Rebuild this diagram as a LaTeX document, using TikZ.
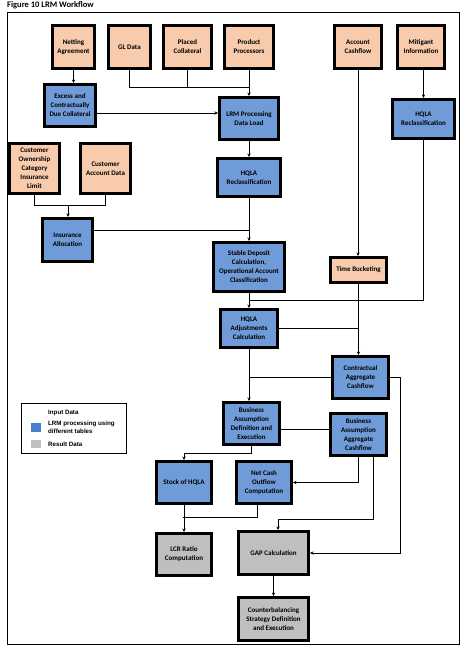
\documentclass[tikz,border=0pt]{standalone}
\usepackage{fontspec}
\setmainfont{Carlito}
\newfontfamily\legfont{Liberation Sans}
\usetikzlibrary{arrows.meta}
\definecolor{peach}{HTML}{F8CBAD}
\definecolor{lrmblue}{HTML}{6F9BD8}
\definecolor{legblue}{HTML}{4A7FD0}
\definecolor{resgray}{HTML}{BFBFBF}
\tikzset{
  box/.style={draw=black, line width=2.6pt, inner sep=0pt, align=center,
    font=\bfseries\fontsize{7}{9}\selectfont, text=black},
  inp/.style={fill=peach},
  proc/.style={fill=lrmblue},
  res/.style={fill=resgray},
  conn/.style={line width=0.8pt, draw=black},
  arr/.style={conn, -{Stealth[length=3.5pt,width=3.2pt]}},
  legtext/.style={anchor=west, inner sep=0pt, align=left,
    font=\legfont\bfseries\fontsize{6.2}{7.8}\selectfont},
}
% name, x1, y1, x2, y2, style, text
\newcommand\LRMbox[7]{%
  \node[box,#6,minimum width={(#4-#2-2.6)*1pt},minimum height={(#5-#3-2.6)*1pt}]
    (#1) at ({(#2+#4)/2},{(#3+#5)/2}) {#7};}
\begin{document}
\begin{tikzpicture}[x=1pt,y=-1pt]
\useasboundingbox (0,0) rectangle (472,650);
\fill[white] (0,0) rectangle (472,650);
\node[anchor=base west, inner sep=0pt, font=\bfseries\fontsize{8.5}{10}\selectfont] (title) at (7,8) {Figure 10 LRM Workflow};
\draw[line width=0.9pt] (7,12) rectangle (459,644);
% boxes
\LRMbox{net}{51}{24}{96}{70}{inp}{Netting\\Agreement}
\LRMbox{gl}{107}{24}{152}{70}{inp}{GL Data}
\LRMbox{placed}{162}{24}{213}{70}{inp}{Placed\\Collateral}
\LRMbox{prod}{223}{24}{275}{70}{inp}{Product\\Processors}
\LRMbox{acf}{333}{24}{383}{70}{inp}{Account\\Cashflow}
\LRMbox{mit}{396}{24}{446}{70}{inp}{Mitigant\\Information}
\LRMbox{excess}{43}{83}{97}{128}{proc}{Excess and\\Contractually\\Due Collateral}
\LRMbox{lrm}{218}{96}{280}{141}{proc}{LRM Processing\\Data Load}
\LRMbox{hqr}{391}{98}{456}{140}{proc}{HQLA\\Reclassification}
\LRMbox{coa}{8}{142}{61}{195}{inp}{Customer\\Ownership\\Category\\Insurance\\Limit}
\LRMbox{cad}{79}{142}{132}{195}{inp}{Customer\\Account Data}
\LRMbox{ins}{41}{217}{94}{263}{proc}{Insurance\\Allocation}
\LRMbox{hqc}{216}{157}{282}{198}{proc}{HQLA\\Reclassification}
\LRMbox{sdc}{212}{241}{286}{293}{proc}{Stable Deposit\\Calculation,\\Operational Account\\Classification}
\LRMbox{tb}{329}{256}{388}{284}{inp}{Time Bucketing}
\LRMbox{hadj}{219}{308}{279}{349}{proc}{HQLA\\Adjustments\\Calculation}
\LRMbox{cac}{331}{355}{390}{400}{proc}{Contractual\\Aggregate\\Cashflow}
\LRMbox{bad}{222}{401}{281}{446}{proc}{Business\\Assumption\\Definition and\\Execution}
\LRMbox{bag}{329}{412}{388}{457}{proc}{Business\\Assumption\\Aggregate\\Cashflow}
\LRMbox{stock}{155}{460}{213}{505}{proc}{Stock of HQLA}
\LRMbox{nco}{235}{460}{293}{505}{proc}{Net Cash\\Outflow\\Computation}
\LRMbox{lcr}{155}{532}{213}{577}{res}{LCR Ratio\\Computation}
\LRMbox{gap}{237}{530}{310}{576}{res}{GAP Calculation}
\LRMbox{cb}{237}{596}{310}{642}{res}{Counterbalancing\\Strategy Definition\\and Execution}
% junction coordinates
\coordinate (j1) at (249,87);
\coordinate (j2) at (68,205);
\coordinate (j3) at (249,300);
\coordinate (j4) at (183,517);
% connectors
\draw[arr] (net.south) -- (net.south |- excess.north);
\draw[conn] (gl.south) |- (j1);
\draw[conn] (placed.south) -- (placed.south |- j1);
\draw[arr] (prod.south) -- (prod.south |- lrm.north);
\draw[arr] ([yshift=-7.5pt]excess.east) -- ([yshift=-7.5pt]excess.east -| lrm.west);
\draw[arr] (prod.south |- lrm.south) -- (prod.south |- hqc.north);
\draw[conn] (coa.south) |- (j2);
\draw[conn] (cad.south) |- (j2);
\draw[arr] (j2) -- (j2 |- ins.north);
\draw[arr] (prod.south |- hqc.south) -- (prod.south |- sdc.north);
\draw[conn] ([yshift=10pt]ins.east) -- ([yshift=10pt]ins.east -| j1);
\draw[arr] (acf.south) -- (acf.south |- tb.north);
\draw[arr] (hqr.north |- mit.south) -- (hqr.north);
\draw[arr] (hqr.south) |- (j3) -- (j3 |- hadj.north);
\draw[conn] (j3 |- sdc.south) -- (j3);
\draw[arr] (tb.south) -- (tb.south |- cac.north);
\draw[conn] (hadj.east) -- (hadj.east -| tb.south);
\draw[arr] (j3 |- hadj.south) -- (j3 |- bad.north);
\draw[conn] (cac.west) -- (cac.west -| j3);
\draw[arr] (cac.east) -- ++(10,0) |- (gap.east);
\draw[conn] ([yshift=-5.5pt]bad.east) -- ([yshift=-5.5pt]bad.east -| bag.west);
\draw[arr] (bad.south) -- ++(0,7) -| (stock.north);
\draw[arr] (bag.south) |- (nco.east);
\draw[arr] ([xshift=15pt]bag.south) -- ++(0,62) -| ([xshift=4.5pt]gap.north);
\draw[conn] ([xshift=-7pt]nco.south) |- (j4);
\draw[arr] (stock.south) -- (lcr.north);
\draw[arr] (gap.south) -- (cb.north);
% legend
\draw[line width=0.7pt] (21,403) rectangle (126,453);
\node[legtext] (legin) at (48,413) {Input Data};
\fill[legblue] (31,423) rectangle (41,432);
\node[legtext] (legproc) at (48,427.5) {LRM processing using\\different tables};
\fill[resgray] (31,440) rectangle (41,448);
\node[legtext] (legres) at (48,444) {Result Data};
\end{tikzpicture}
\end{document}
